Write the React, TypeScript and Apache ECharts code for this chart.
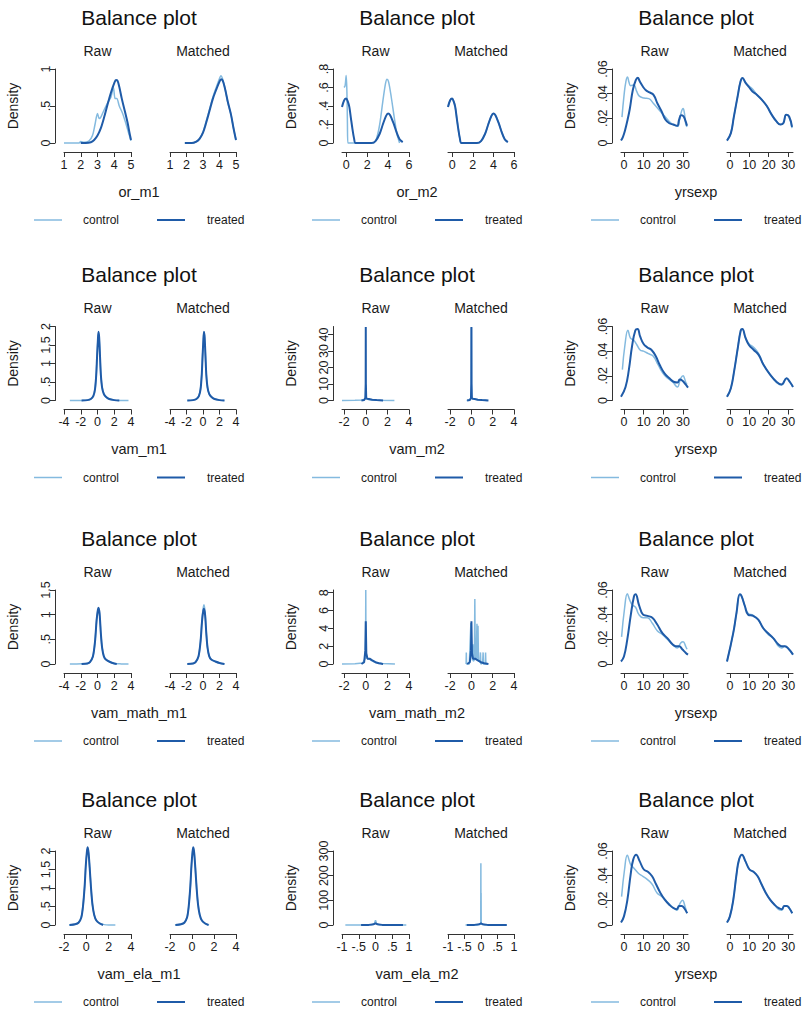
import React, { useEffect, useRef } from "react";
import * as echarts from "echarts";

type Pt = [number, number];

// ---------- tick values ----------
const orM1XTicks = [1, 2, 3, 4, 5];
const orM1YTicks = [0, 0.5, 1];
const orM2XTicks = [0, 2, 4, 6];
const orM2YTicks = [0, 0.2, 0.4, 0.6, 0.8];
const yrsXTicks = [0, 10, 20, 30];
const yrsYTicks = [0, 0.02, 0.04, 0.06];
const vamM1XTicks = [-4, -2, 0, 2, 4];
const vamM1YTicks = [0, 0.5, 1, 1.5, 2];
const vamM2XTicks = [-2, 0, 2, 4];
const vamM2YTicks = [0, 10, 20, 30, 40];
const vamMathM1XTicks = [-4, -2, 0, 2, 4];
const vamMathM1YTicks = [0, 0.5, 1, 1.5];
const vamMathM2XTicks = [-2, 0, 2, 4];
const vamMathM2YTicks = [0, 2, 4, 6, 8];
const vamElaM1XTicks = [-2, 0, 2, 4];
const vamElaM1YTicks = [0, 0.5, 1, 1.5, 2];
const vamElaM2XTicks = [-1, -0.5, 0, 0.5, 1];
const vamElaM2YTicks = [0, 100, 200, 300];

// ---------- row 1 ----------
const orM1RawControl: Pt[] = [[1,0],[1.5,0],[1.9,0],[2.0,0.02],[2.2,0.01],[2.5,0.03],[2.7,0.1],[2.85,0.25],[3.0,0.4],[3.1,0.33],[3.2,0.35],[3.4,0.45],[3.6,0.54],[3.8,0.62],[3.95,0.75],[4.05,0.6],[4.15,0.6],[4.3,0.5],[4.5,0.4],[4.7,0.26],[4.85,0.14],[5.0,0.03]];
const orM1RawTreated: Pt[] = [[2.0,0],[2.3,0],[2.6,0.01],[2.8,0.04],[3.0,0.1],[3.2,0.2],[3.4,0.35],[3.6,0.52],[3.8,0.68],[4.0,0.81],[4.1,0.85],[4.2,0.84],[4.3,0.76],[4.45,0.6],[4.6,0.46],[4.8,0.27],[4.9,0.15],[5.0,0.04]];
const orM1MatchedControl: Pt[] = [[1.9,0],[2.3,0],[2.6,0.02],[2.8,0.06],[3.0,0.15],[3.2,0.3],[3.4,0.46],[3.6,0.62],[3.8,0.75],[4.0,0.87],[4.08,0.91],[4.2,0.86],[4.35,0.72],[4.5,0.55],[4.7,0.38],[4.85,0.2],[5.0,0.04]];
const orM1MatchedTreated: Pt[] = [[1.9,0],[2.3,0],[2.6,0.02],[2.8,0.06],[3.0,0.14],[3.2,0.28],[3.4,0.44],[3.6,0.6],[3.8,0.72],[4.0,0.83],[4.1,0.86],[4.2,0.84],[4.35,0.72],[4.5,0.56],[4.7,0.38],[4.85,0.2],[5.0,0.04]];

const orM2RawControl: Pt[] = [[-0.2,0.6],[-0.1,0.62],[0,0.73],[0.07,0.55],[0.12,0.2],[0.16,0],[1.5,0],[2.6,0],[2.9,0.05],[3.2,0.2],[3.5,0.45],[3.75,0.64],[3.9,0.69],[4.05,0.66],[4.3,0.5],[4.6,0.27],[4.85,0.1],[5.1,0]];
const orM2RawTreated: Pt[] = [[-0.4,0.39],[-0.2,0.46],[0,0.48],[0.15,0.45],[0.3,0.39],[0.45,0.27],[0.6,0.15],[0.75,0.05],[0.9,0],[2.4,0],[2.8,0.02],[3.2,0.1],[3.5,0.2],[3.8,0.29],[4.0,0.32],[4.2,0.3],[4.5,0.22],[4.8,0.12],[5.1,0.04],[5.4,0.01]];
const orM2MatchedControl: Pt[] = [[-0.4,0.39],[-0.2,0.46],[0,0.48],[0.15,0.45],[0.3,0.39],[0.45,0.27],[0.6,0.15],[0.75,0.05],[0.9,0],[2.4,0],[2.8,0.02],[3.2,0.1],[3.5,0.2],[3.8,0.29],[4.0,0.32],[4.2,0.3],[4.5,0.22],[4.8,0.12],[5.1,0.04],[5.4,0.01]];
const orM2MatchedTreated: Pt[] = [[-0.4,0.39],[-0.2,0.46],[0,0.48],[0.15,0.45],[0.3,0.39],[0.45,0.27],[0.6,0.15],[0.75,0.05],[0.9,0],[2.4,0],[2.8,0.02],[3.2,0.1],[3.5,0.2],[3.8,0.29],[4.0,0.32],[4.2,0.3],[4.5,0.22],[4.8,0.12],[5.1,0.04],[5.4,0.01]];

const yrs1RawControl: Pt[] = [[-1,0.021],[0,0.038],[1,0.05],[1.8,0.0535],[2.6,0.049],[3.4,0.0465],[5,0.047],[6.4,0.042],[7.8,0.038],[10.2,0.0365],[12.6,0.036],[15,0.032],[18.3,0.026],[20.7,0.0216],[24,0.016],[27.2,0.0135],[28.2,0.019],[28.9,0.024],[30,0.028],[30.7,0.024],[31.3,0.016],[32,0.013]];
const yrs1RawTreated: Pt[] = [[-1.5,0.002],[-0.5,0.005],[0.5,0.01],[2,0.02],[3,0.028],[4.5,0.043],[6,0.051],[7,0.053],[8,0.05],[9.5,0.046],[11,0.043],[13,0.041],[15,0.039],[17,0.032],[19,0.026],[21,0.019],[23,0.016],[25,0.015],[27,0.014],[28,0.019],[29,0.0225],[30,0.022],[31,0.019],[32,0.014]];
const yrs1MatchedControl: Pt[] = [[-1.5,0.002],[0.5,0.008],[2,0.021],[4,0.038],[5.5,0.05],[6.5,0.0527],[8,0.049],[10,0.046],[11.5,0.044],[13,0.041],[14,0.039],[16.5,0.035],[19,0.03],[21.5,0.023],[24,0.0175],[26,0.015],[27.5,0.016],[29,0.023],[30.5,0.021],[32,0.012]];
const yrs1MatchedTreated: Pt[] = [[-1.5,0.002],[0.5,0.008],[2,0.021],[4,0.038],[5.5,0.05],[6.5,0.0527],[8,0.049],[10,0.045],[11.5,0.042],[14,0.039],[16.5,0.035],[19,0.03],[21.5,0.023],[24,0.0175],[26,0.015],[27.5,0.016],[29,0.023],[30.5,0.0215],[32,0.013]];

// ---------- row 2 ----------
const vamM1RawControl: Pt[] = [[-3.3,0],[-2.5,0],[-1.9,0.003],[-1.2,0.01],[-0.8,0.04],[-0.5,0.12],[-0.3,0.3],[-0.15,0.7],[-0.05,1.2],[0.05,1.65],[0.12,1.84],[0.2,1.68],[0.3,1.2],[0.4,0.72],[0.55,0.36],[0.75,0.19],[1.0,0.1],[1.4,0.04],[2.0,0.01],[2.6,0.002],[3.7,0]];
const vamM1RawTreated: Pt[] = [[-1.9,0],[-1.2,0.01],[-0.8,0.04],[-0.5,0.12],[-0.3,0.3],[-0.15,0.7],[-0.05,1.2],[0.05,1.65],[0.12,1.86],[0.2,1.7],[0.3,1.2],[0.4,0.7],[0.55,0.35],[0.75,0.18],[1.0,0.1],[1.4,0.04],[2.0,0.01],[2.6,0]];
const vamM1MatchedControl: Pt[] = [[-1.9,0],[-1.2,0.01],[-0.8,0.04],[-0.5,0.13],[-0.3,0.32],[-0.15,0.72],[-0.05,1.22],[0.05,1.66],[0.12,1.85],[0.2,1.69],[0.3,1.2],[0.4,0.7],[0.55,0.36],[0.75,0.18],[1.0,0.1],[1.4,0.04],[2.0,0.01],[2.6,0]];
const vamM1MatchedTreated: Pt[] = [[-1.9,0],[-1.2,0.01],[-0.8,0.04],[-0.5,0.12],[-0.3,0.3],[-0.15,0.7],[-0.05,1.2],[0.05,1.65],[0.12,1.86],[0.2,1.7],[0.3,1.2],[0.4,0.7],[0.55,0.35],[0.75,0.18],[1.0,0.1],[1.4,0.04],[2.0,0.01],[2.6,0]];

const vamM2RawControl: Pt[] = [[-2.2,0],[-1,0.1],[-0.3,0.3],[-0.06,0.8],[-0.02,3],[0,9.5],[0.02,3],[0.06,1],[0.3,0.5],[1,0.2],[2.65,0]];
const vamM2RawTreated: Pt[] = [[-0.4,0],[-0.15,0.3],[-0.04,1.5],[-0.01,10],[0,44.5],[0.01,10],[0.04,1.5],[0.15,1],[0.3,0.9],[0.6,0.5],[1.0,0.25],[1.6,0]];
const vamM2MatchedControl: Pt[] = [[-0.45,0],[-0.15,0.3],[-0.04,1.5],[-0.01,10],[0,44],[0.01,10],[0.04,1.5],[0.15,1],[0.3,0.9],[0.6,0.5],[1.0,0.25],[1.5,0]];
const vamM2MatchedTreated: Pt[] = [[-0.4,0],[-0.15,0.3],[-0.04,1.5],[-0.01,10],[0,44.5],[0.01,10],[0.04,1.5],[0.15,1],[0.3,0.9],[0.6,0.5],[1.0,0.25],[1.6,0]];

const yrs2RawControl: Pt[] = [[-0.8,0.025],[0.5,0.045],[2,0.057],[3.3,0.0505],[4.9,0.049],[6.6,0.045],[8.2,0.041],[9.9,0.04],[12.4,0.038],[14.8,0.036],[17.3,0.029],[19.8,0.022],[22.2,0.018],[24.7,0.015],[27.2,0.011],[28.2,0.015],[28.8,0.018],[30,0.02],[30.7,0.018],[31.3,0.015],[32,0.013]];
const yrs2RawTreated: Pt[] = [[-1.5,0.003],[0.8,0.011],[2.5,0.025],[4.1,0.044],[5.8,0.057],[6.9,0.058],[8.2,0.052],[9.9,0.046],[11.9,0.043],[14,0.041],[16.1,0.036],[18.1,0.029],[20.6,0.022],[23.1,0.018],[25.5,0.015],[27.2,0.0146],[28.3,0.017],[29.7,0.016],[31.3,0.013],[32.5,0.0105]];
const yrs2MatchedControl: Pt[] = [[-1.5,0.003],[0.5,0.01],[2.2,0.024],[3.9,0.041],[5.6,0.057],[6.4,0.058],[8,0.051],[9.8,0.046],[12.3,0.043],[14.8,0.038],[17.3,0.029],[20.7,0.021],[24.1,0.0145],[26.6,0.0125],[29.2,0.018],[30.9,0.015],[32.5,0.011]];
const yrs2MatchedTreated: Pt[] = [[-1.5,0.003],[0.5,0.01],[2.2,0.024],[3.9,0.041],[5.6,0.057],[6.4,0.058],[8,0.051],[9.8,0.045],[12.3,0.041],[14.8,0.037],[17.3,0.029],[20.7,0.021],[24.1,0.015],[26.6,0.013],[29.2,0.018],[30.9,0.015],[32.5,0.011]];

// ---------- row 3 ----------
const vamMathM1RawControl: Pt[] = [[-3.3,0],[-2.5,0],[-1.9,0.003],[-1.2,0.012],[-0.9,0.04],[-0.55,0.15],[-0.3,0.45],[-0.1,0.9],[0.05,1.1],[0.12,1.12],[0.25,1.0],[0.4,0.62],[0.55,0.33],[0.75,0.16],[1.0,0.09],[1.5,0.04],[2.0,0.012],[2.8,0.002],[3.7,0]];
const vamMathM1RawTreated: Pt[] = [[-1.9,0],[-1.2,0.012],[-0.9,0.04],[-0.55,0.15],[-0.3,0.45],[-0.1,0.9],[0.05,1.1],[0.12,1.14],[0.25,1.02],[0.4,0.62],[0.55,0.33],[0.75,0.16],[1.0,0.09],[1.5,0.04],[2.0,0.01],[2.3,0]];
const vamMathM1MatchedControl: Pt[] = [[-1.9,0],[-1.2,0.012],[-0.9,0.04],[-0.55,0.15],[-0.3,0.47],[-0.1,0.95],[0.05,1.16],[0.12,1.2],[0.25,1.06],[0.4,0.64],[0.55,0.33],[0.75,0.16],[1.0,0.09],[1.5,0.05],[2.0,0.02],[2.6,0]];
const vamMathM1MatchedTreated: Pt[] = [[-1.9,0],[-1.2,0.012],[-0.9,0.04],[-0.55,0.15],[-0.3,0.45],[-0.1,0.9],[0.05,1.09],[0.12,1.12],[0.25,1.0],[0.4,0.62],[0.55,0.33],[0.75,0.16],[1.0,0.09],[1.5,0.05],[2.0,0.02],[2.6,0]];

const vamMathM2RawControl: Pt[] = [[-2.2,0],[-1,0.02],[-0.3,0.1],[-0.05,0.6],[-0.015,3],[0,8.3],[0.015,3],[0.05,1],[0.15,0.6],[0.4,0.5],[0.8,0.2],[1.5,0.05],[2.7,0]];
const vamMathM2RawTreated: Pt[] = [[-0.4,0],[-0.15,0.2],[-0.04,1.5],[0,4.8],[0.05,1.2],[0.15,0.6],[0.35,0.6],[0.6,0.4],[0.9,0.2],[1.2,0.08],[1.6,0]];
const vamMathM2MatchedControl: Pt[] = [[-0.5,0],[-0.48,1.3],[-0.46,0],[-0.2,0],[-0.12,2.5],[-0.05,4.6],[0.02,1.5],[0.1,0.4],[0.14,2.2],[0.18,0.3],[0.28,0.5],[0.32,7.3],[0.36,0.5],[0.45,0.8],[0.52,4.5],[0.56,0.6],[0.62,4.3],[0.66,0.4],[0.8,0.2],[0.85,1.3],[0.88,0],[1.05,0.1],[1.1,1.3],[1.13,0],[1.3,0],[1.33,1.3],[1.36,0],[1.5,0]];
const vamMathM2MatchedTreated: Pt[] = [[-0.4,0],[-0.15,0.2],[-0.04,1.5],[0,4.8],[0.05,1.2],[0.15,0.6],[0.35,0.6],[0.6,0.4],[0.9,0.2],[1.2,0.08],[1.6,0]];

const yrs3RawControl: Pt[] = [[-1.2,0.022],[0.3,0.045],[1.7,0.057],[2.9,0.052],[4.2,0.048],[5.9,0.046],[7.6,0.04],[9.7,0.0375],[11.9,0.0375],[14.4,0.033],[16.9,0.027],[19.5,0.024],[22,0.02],[24.6,0.016],[27.1,0.013],[28.8,0.017],[30,0.018],[31.4,0.014],[32,0.012]];
const yrs3RawTreated: Pt[] = [[-1.5,0.002],[0,0.006],[1.7,0.02],[3.4,0.039],[5.1,0.055],[5.9,0.0565],[7.6,0.048],[9.7,0.04],[11.9,0.039],[14.4,0.0375],[16.9,0.032],[19.5,0.025],[22,0.021],[24.6,0.016],[26.3,0.0144],[28,0.0144],[29.7,0.0117],[31.4,0.009],[32.5,0.0076]];
const yrs3MatchedControl: Pt[] = [[-1.5,0.002],[1.7,0.025],[3.4,0.0415],[5.1,0.0565],[6,0.055],[7.7,0.047],[9.4,0.041],[12,0.0395],[14.6,0.036],[17.2,0.029],[19.7,0.024],[22.3,0.021],[24.9,0.0145],[26.6,0.013],[28.3,0.0144],[30.5,0.0117],[32.5,0.0076]];
const yrs3MatchedTreated: Pt[] = [[-1.5,0.002],[1.7,0.025],[3.4,0.0415],[5.1,0.0565],[6,0.055],[7.7,0.047],[9.4,0.04],[12,0.039],[14.6,0.036],[17.2,0.029],[19.7,0.025],[22.3,0.021],[24.9,0.016],[26.6,0.0144],[28.3,0.0144],[30.5,0.0117],[32.5,0.0076]];

// ---------- row 4 ----------
const vamElaM1RawControl: Pt[] = [[-1.55,0],[-1.0,0.02],[-0.7,0.07],[-0.45,0.22],[-0.3,0.52],[-0.15,1.05],[-0.05,1.58],[0.05,1.95],[0.12,2.07],[0.2,1.93],[0.3,1.55],[0.42,1.0],[0.55,0.55],[0.7,0.28],[0.9,0.12],[1.2,0.05],[1.6,0.01],[2.0,0],[2.6,0]];
const vamElaM1RawTreated: Pt[] = [[-1.5,0],[-1.0,0.02],[-0.7,0.06],[-0.45,0.2],[-0.3,0.5],[-0.15,1.05],[-0.05,1.6],[0.05,1.98],[0.12,2.1],[0.2,1.95],[0.3,1.55],[0.42,1.0],[0.55,0.55],[0.7,0.28],[0.9,0.12],[1.2,0.04],[1.5,0]];
const vamElaM1MatchedControl: Pt[] = [[-1.55,0],[-1.0,0.02],[-0.7,0.07],[-0.45,0.21],[-0.3,0.5],[-0.15,1.05],[-0.05,1.6],[0.05,1.97],[0.12,2.08],[0.2,1.94],[0.3,1.55],[0.42,1.0],[0.55,0.55],[0.7,0.28],[0.9,0.12],[1.2,0.04],[1.55,0]];
const vamElaM1MatchedTreated: Pt[] = [[-1.5,0],[-1.0,0.02],[-0.7,0.06],[-0.45,0.2],[-0.3,0.5],[-0.15,1.05],[-0.05,1.6],[0.05,1.98],[0.12,2.1],[0.2,1.95],[0.3,1.55],[0.42,1.0],[0.55,0.55],[0.7,0.28],[0.9,0.12],[1.2,0.04],[1.5,0]];

const vamElaM2RawControl: Pt[] = [[-0.9,0],[-0.4,0.3],[-0.1,1.5],[-0.03,6],[0,19],[0.03,6],[0.1,1.5],[0.4,0.3],[0.92,0]];
const vamElaM2RawTreated: Pt[] = [[-0.43,0],[-0.2,0.5],[-0.05,3],[0,7],[0.05,3],[0.2,0.5],[0.82,0]];
const vamElaM2MatchedControl: Pt[] = [[-0.47,0],[-0.1,0.5],[-0.02,3],[-0.008,8],[-0.004,250],[0,8],[0.003,130],[0.007,6],[0.02,3],[0.1,0.5],[0.78,0]];
const vamElaM2MatchedTreated: Pt[] = [[-0.43,0],[-0.2,0.5],[-0.05,3],[0,7],[0.05,3],[0.2,0.5],[0.78,0]];

const yrs4RawControl: Pt[] = [[-1.2,0.023],[0.3,0.045],[1.7,0.0565],[3.4,0.049],[5.1,0.046],[7.3,0.042],[9.6,0.0395],[11.8,0.037],[14.3,0.033],[16.8,0.026],[19.3,0.023],[21.8,0.019],[24.3,0.015],[26.8,0.012],[28.5,0.0177],[29.7,0.02],[31,0.015],[31.7,0.011]];
const yrs4RawTreated: Pt[] = [[-1.5,0.002],[0,0.007],[1.7,0.02],[3.4,0.041],[4.7,0.053],[6.2,0.057],[7.9,0.052],[10.1,0.045],[12.3,0.043],[14.3,0.0395],[16.3,0.033],[18.5,0.026],[20.7,0.0205],[23,0.0164],[25.2,0.0136],[26.8,0.0128],[28,0.0155],[29.3,0.0155],[30.6,0.0136],[32.1,0.0095]];
const yrs4MatchedControl: Pt[] = [[-1.5,0.002],[0,0.007],[1.7,0.02],[3.4,0.041],[4.7,0.053],[6.2,0.057],[7.9,0.052],[10.1,0.045],[12.3,0.043],[14.3,0.0395],[16.3,0.033],[18.5,0.026],[20.7,0.0205],[23,0.0162],[25.2,0.0125],[26.8,0.012],[28,0.0155],[29.3,0.0155],[30.6,0.0136],[32.1,0.0095]];
const yrs4MatchedTreated: Pt[] = [[-1.5,0.002],[0,0.007],[1.7,0.02],[3.4,0.041],[4.7,0.053],[6.2,0.057],[7.9,0.052],[10.1,0.045],[12.3,0.043],[14.3,0.0395],[16.3,0.033],[18.5,0.026],[20.7,0.0205],[23,0.0164],[25.2,0.0136],[26.8,0.0128],[28,0.0155],[29.3,0.0155],[30.6,0.0136],[32.1,0.0095]];

// ---------- plot table (row-major) ----------
interface PlotDef {
  xName: string; xMin: number; xMax: number; xTicks: number[];
  yMax: number; yTicks: number[]; series: Pt[][]; smooth: number | false;
}
const PLOTS: PlotDef[] = [
  { xName: "or_m1", xMin: 1, xMax: 5, xTicks: orM1XTicks, yMax: 1, yTicks: orM1YTicks, series: [orM1RawControl, orM1RawTreated, orM1MatchedControl, orM1MatchedTreated], smooth: 0.3 },
  { xName: "or_m2", xMin: -0.4, xMax: 6, xTicks: orM2XTicks, yMax: 0.8, yTicks: orM2YTicks, series: [orM2RawControl, orM2RawTreated, orM2MatchedControl, orM2MatchedTreated], smooth: 0.3 },
  { xName: "yrsexp", xMin: -1.5, xMax: 32.5, xTicks: yrsXTicks, yMax: 0.06, yTicks: yrsYTicks, series: [yrs1RawControl, yrs1RawTreated, yrs1MatchedControl, yrs1MatchedTreated], smooth: 0.45 },
  { xName: "vam_m1", xMin: -4, xMax: 4, xTicks: vamM1XTicks, yMax: 2, yTicks: vamM1YTicks, series: [vamM1RawControl, vamM1RawTreated, vamM1MatchedControl, vamM1MatchedTreated], smooth: 0.3 },
  { xName: "vam_m2", xMin: -2.2, xMax: 4, xTicks: vamM2XTicks, yMax: 44.8, yTicks: vamM2YTicks, series: [vamM2RawControl, vamM2RawTreated, vamM2MatchedControl, vamM2MatchedTreated], smooth: false },
  { xName: "yrsexp", xMin: -1.5, xMax: 32.5, xTicks: yrsXTicks, yMax: 0.06, yTicks: yrsYTicks, series: [yrs2RawControl, yrs2RawTreated, yrs2MatchedControl, yrs2MatchedTreated], smooth: 0.45 },
  { xName: "vam_math_m1", xMin: -4, xMax: 4, xTicks: vamMathM1XTicks, yMax: 1.5, yTicks: vamMathM1YTicks, series: [vamMathM1RawControl, vamMathM1RawTreated, vamMathM1MatchedControl, vamMathM1MatchedTreated], smooth: 0.3 },
  { xName: "vam_math_m2", xMin: -2.2, xMax: 4, xTicks: vamMathM2XTicks, yMax: 8.3, yTicks: vamMathM2YTicks, series: [vamMathM2RawControl, vamMathM2RawTreated, vamMathM2MatchedControl, vamMathM2MatchedTreated], smooth: false },
  { xName: "yrsexp", xMin: -1.5, xMax: 32.5, xTicks: yrsXTicks, yMax: 0.06, yTicks: yrsYTicks, series: [yrs3RawControl, yrs3RawTreated, yrs3MatchedControl, yrs3MatchedTreated], smooth: 0.45 },
  { xName: "vam_ela_m1", xMin: -2, xMax: 4, xTicks: vamElaM1XTicks, yMax: 2, yTicks: vamElaM1YTicks, series: [vamElaM1RawControl, vamElaM1RawTreated, vamElaM1MatchedControl, vamElaM1MatchedTreated], smooth: 0.3 },
  { xName: "vam_ela_m2", xMin: -1, xMax: 1, xTicks: vamElaM2XTicks, yMax: 300, yTicks: vamElaM2YTicks, series: [vamElaM2RawControl, vamElaM2RawTreated, vamElaM2MatchedControl, vamElaM2MatchedTreated], smooth: false },
  { xName: "yrsexp", xMin: -1.5, xMax: 32.5, xTicks: yrsXTicks, yMax: 0.06, yTicks: yrsYTicks, series: [yrs4RawControl, yrs4RawTreated, yrs4MatchedControl, yrs4MatchedTreated], smooth: 0.45 },
];

const PANEL_NAMES = ["Raw", "Matched"];
const GROUP_NAMES = ["control", "treated"];

// ---------- layout / style ----------
const W = 808, H = 1011;
const ROW_ZERO = [143, 400.5, 664, 925];
const COL_X = [0, 278, 557];
const PH = 74;
const PANEL_LEFT = [64, 170];
const PANEL_W = [67, 66];
const FONT = '"Liberation Sans", Arial, Helvetica, sans-serif';
const TXT = "#1a1a1a";
const AXIS = "#333333";
const COLORS = ["#84badf", "#1f5ba8"];
const WIDTHS = [1.5, 2];
const TICK_FS = 12.5;

const fmt = (v: number) => {
  let s = String(v);
  if (s.startsWith("0.")) s = s.slice(1);
  else if (s.startsWith("-0.")) s = "-" + s.slice(2);
  return s;
};

function buildOption() {
  const grid: any[] = [], xAxis: any[] = [], yAxis: any[] = [], series: any[] = [], graphic: any[] = [];
  PLOTS.forEach((p, pi) => {
    const r = Math.floor(pi / 3), c = pi % 3;
    const zero = ROW_ZERO[r], cx = COL_X[c];
    for (let k = 0; k < 2; k++) {
      const g = pi * 2 + k;
      grid.push({ left: cx + PANEL_LEFT[k], top: zero - PH, width: PANEL_W[k], height: PH, outerBoundsMode: "none", containLabel: false });
      xAxis.push({
        type: "value", gridIndex: g, min: p.xMin, max: p.xMax, offset: 9,
        axisLine: { show: true, onZero: false, lineStyle: { color: AXIS, width: 1 } },
        axisTick: { show: true, length: 5, customValues: p.xTicks, lineStyle: { color: AXIS, width: 1 } },
        axisLabel: { show: true, customValues: p.xTicks, formatter: fmt, margin: 6, fontSize: TICK_FS, color: TXT, fontFamily: FONT, hideOverlap: false },
        splitLine: { show: false },
      });
      yAxis.push({
        type: "value", gridIndex: g, min: 0, max: p.yMax, offset: 9, show: k === 0,
        axisLine: { show: true, onZero: false, lineStyle: { color: AXIS, width: 1 } },
        axisTick: { show: true, length: 5, customValues: p.yTicks, lineStyle: { color: AXIS, width: 1 } },
        axisLabel: { show: true, customValues: p.yTicks, formatter: fmt, rotate: 90, margin: 3, fontSize: TICK_FS, color: TXT, fontFamily: FONT, hideOverlap: false },
        splitLine: { show: false },
      });
      for (let s = 0; s < 2; s++) {
        series.push({
          type: "line", name: GROUP_NAMES[s], xAxisIndex: g, yAxisIndex: g,
          data: p.series[k * 2 + s], showSymbol: false, symbol: "none",
          smooth: p.smooth, clip: false, silent: true,
          lineStyle: { color: COLORS[s], width: WIDTHS[s] }, z: 2 + s,
        });
      }
      graphic.push({
        type: "text", x: cx + PANEL_LEFT[k] + PANEL_W[k] / 2, y: zero - 92.5,
        style: { text: PANEL_NAMES[k], fontSize: 14, fontFamily: FONT, fill: TXT, align: "center", verticalAlign: "middle" },
      });
    }
    graphic.push({
      type: "text", x: cx + 139, y: zero - 126,
      style: { text: "Balance plot", fontSize: 21, fontFamily: FONT, fill: "#111", align: "center", verticalAlign: "middle" },
    });
    graphic.push({
      type: "text", x: cx + 13, y: zero - PH / 2, rotation: Math.PI / 2,
      style: { text: "Density", fontSize: 14, fontFamily: FONT, fill: TXT, align: "center", verticalAlign: "middle" },
    });
    graphic.push({
      type: "text", x: cx + 139, y: zero + 48.5,
      style: { text: p.xName, fontSize: 14.5, fontFamily: FONT, fill: TXT, align: "center", verticalAlign: "middle" },
    });
    const ly = zero + 77;
    const keys = [[34, 62, 83], [157, 185, 207]];
    keys.forEach((kk, s) => {
      graphic.push({
        type: "line", shape: { x1: cx + kk[0], y1: ly, x2: cx + kk[1], y2: ly },
        style: { stroke: COLORS[s], lineWidth: WIDTHS[s] },
      });
      graphic.push({
        type: "text", x: cx + kk[2], y: ly,
        style: { text: GROUP_NAMES[s], fontSize: 12, fontFamily: FONT, fill: TXT, align: "left", verticalAlign: "middle" },
      });
    });
  });
  return {
    animation: false,
    backgroundColor: "#ffffff",
    grid, xAxis, yAxis, series, graphic,
  };
}

export default function App() {
  const ref = useRef<HTMLDivElement>(null);
  useEffect(() => {
    if (!ref.current) return;
    const chart = echarts.init(ref.current, undefined, { renderer: "svg" });
    chart.setOption(buildOption() as any);
    return () => chart.dispose();
  }, []);
  return <div ref={ref} style={{ position: "absolute", left: 0, top: 0, width: W, height: H, background: "#fff" }} />;
}
